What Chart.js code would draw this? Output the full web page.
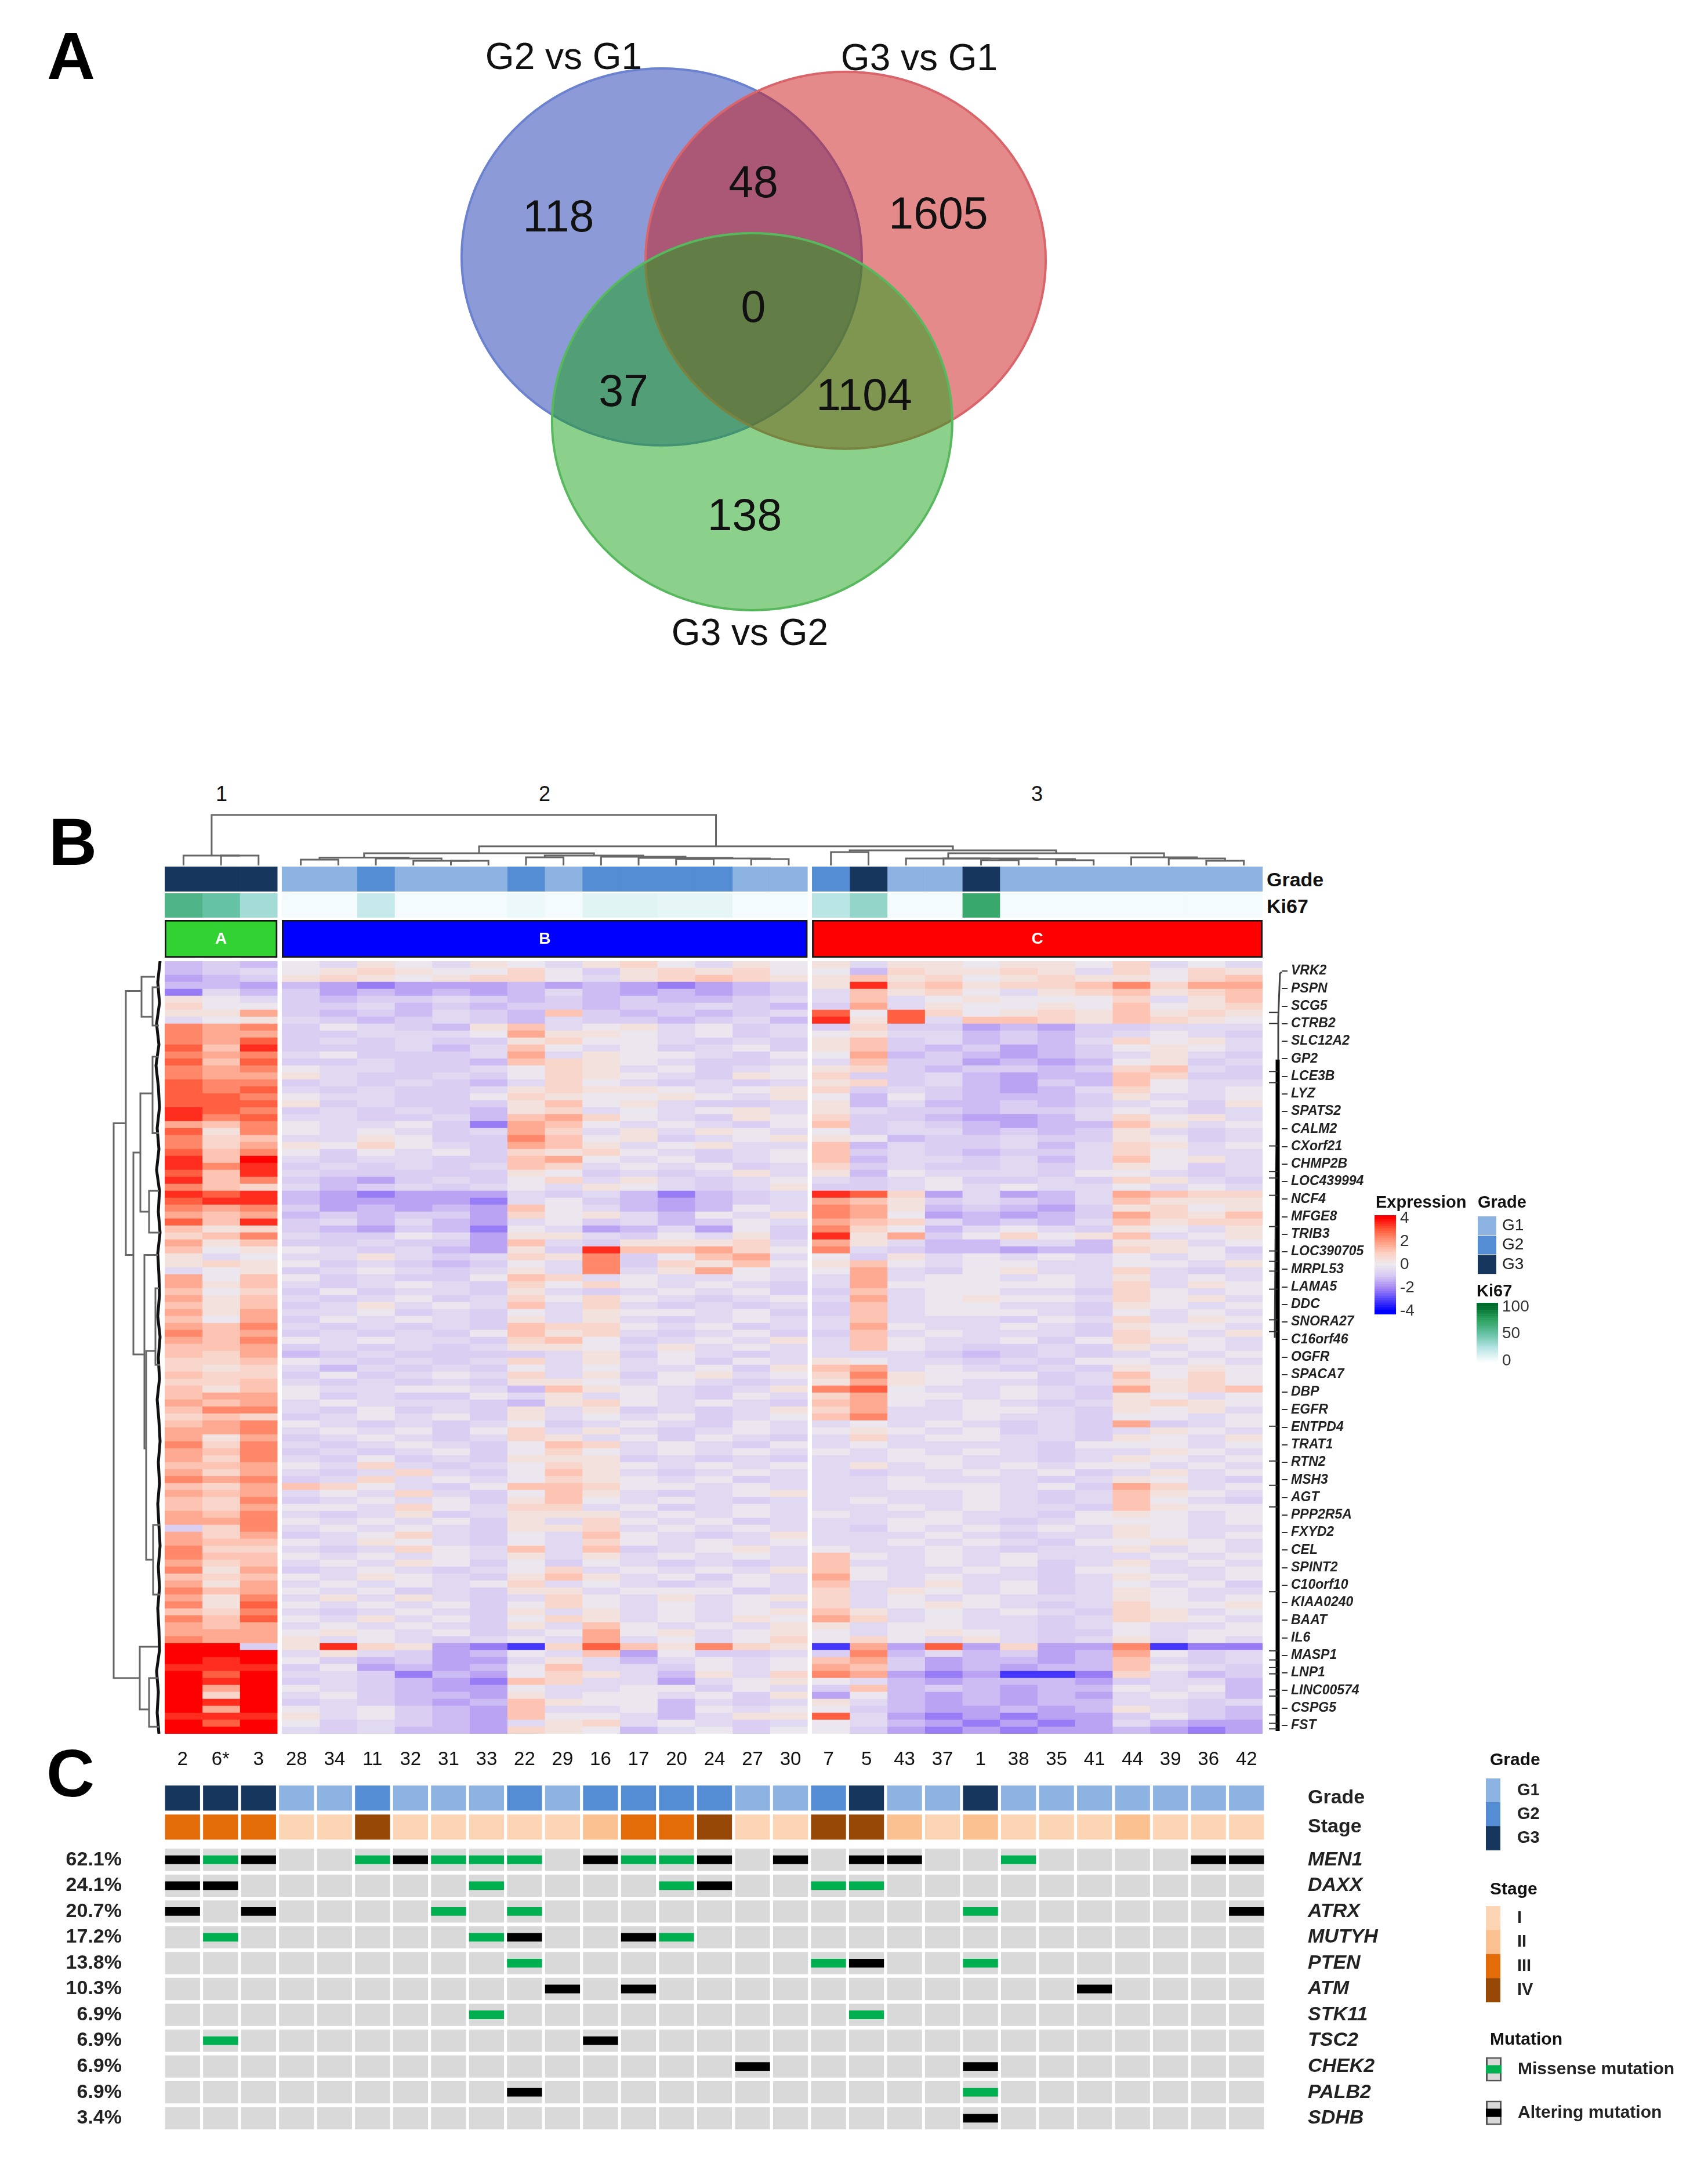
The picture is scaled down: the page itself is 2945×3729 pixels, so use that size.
<!DOCTYPE html>
<html>
<head>
<meta charset="utf-8">
<title>Venn, heatmap, oncoprint</title>
<script src="https://cdn.jsdelivr.net/npm/chart.js@4"></script>
<style>
  html, body { margin: 0; background: #fff; }
  #page { position: relative; width: 2945px; height: 3729px; overflow: hidden; font-family: 'Liberation Sans', Arial, sans-serif; color: #111; }
  canvas { position: absolute; }
  .lab { position: absolute; line-height: 1; white-space: nowrap; transform: translateY(-50%); }
</style>
</head>
<body>
<div id="page"></div>
<script>
// panel A
const vennSets = ['G2 vs G1', 'G3 vs G1', 'G3 vs G2'];
const vennCx = [0, 0.919, 0.452];
const vennCy = [0, 0.018, 0.874];
const vennFill = ['rgba(26,56,176,.5)', 'rgba(203,22,22,.5)', 'rgba(25,163,23,.5)'];
const vennLine = ['#6a82cf', '#d9656b', '#58b85e'];
const vennCounts = [118, 48, 1605, 0, 37, 1104, 138];

// samples in plot order, 3 clusters
const samples = ['2', '6*', '3', '28', '34', '11', '32', '31', '33', '22', '29', '16', '17', '20', '24', '27', '30', '7', '5', '43', '37', '1', '38', '35', '41', '44', '39', '36', '42'];
const clusterSizes = [3, 14, 12];
const clusterNames = ['A', 'B', 'C'];
const clusterColors = ['#32d232', '#0000ff', '#ff0000'];
const grade = [3, 3, 3, 1, 1, 2, 1, 1, 1, 2, 1, 2, 2, 2, 2, 1, 1, 2, 3, 1, 1, 3, 1, 1, 1, 1, 1, 1, 1];
const stage = [3, 3, 3, 1, 1, 4, 1, 1, 1, 1, 1, 2, 3, 3, 4, 1, 1, 4, 4, 2, 1, 2, 1, 1, 1, 2, 1, 1, 1];
const ki67 = [60, 50, 30, 1, 1, 18, 1, 1, 1, 4, 1, 8, 8, 6, 6, 1, 1, 22, 35, 1, 1, 70, 1, 1, 1, 1, 1, 1, 1];
const gradeColors = ['#8db3e2', '#548dd4', '#17365d'];
const stageColors = ['#fcd5b4', '#fac090', '#e36c09', '#974806'];

// heatmap, one letter per sample: cluster A | cluster B | cluster C
const levelOf = { a: -3.2, b: -2.2, c: -1.6, d: -1.2, e: -0.85, f: -0.55, g: -0.1, h: 0.35, i: 0.75, j: 1.2, k: 1.7, l: 2.3, m: 2.9, n: 3.5, o: 4 };
const heatRows = [
  'ded gfhgfhgfhigfhg hfhhghhgifgf', 'def ghihggigehihig gdihhihfigih', 'cde hihghiigfhijih hjhighihhgij',
  'ddc dcbcccdcdcbcde hnijhiijlikk', 'bfd ecdcdcdfdcdcde fjhigfhijhij', 'hgf edeefedededdef fjfghgggifhj',
  'igg eefdedeedeefed ekfhgghgjghi', 'hhk ededfedjededef mgmighihjhih', 'fgh fedefedfeedefd nhmfjjihjihg',
  'lkl egfedhjfghfgef eieecdceefff', 'lkk eefffgkhhgfgef ghffdedefgfe', 'lkm efefeehiggfefe hjefdedfighf',
  'mjn eeefdfjgfgefge hjedecdeghgf', 'lkl fgeeefkfhggfeg gkdedcdefhfe', 'mjm eefeedjihgfeef fjeecdcdghef',
  'lkl gffeefgihfgefg hiedeedeijfe', 'lkk hfeefegihgfehg ieefdcddjiee', 'mll efefedfigfefef hiefdcedjgff',
  'mlm fefeefhihhgfgh iefedcdfigfg', 'mml gffeegihgghgfh gdgedddehffg', 'mmm hefeeehjghfeef hdfddedefgeh',
  'nml efefedhifgfghf hfeedeefgfef', 'nlm ffeefdjkigfehg ieedccdfighf', 'kjl gffgebkjgfgfeg jefedcddjhfg',
  'mhl gfgfefkifhfhgf geffdedehfef', 'lij ffhgeeljghefgh hgdeefeehgef', 'lik hgigfekjhfghff jdfeefdfihfg',
  'mjl gegfgeihigfefg jefedeefigff', 'njo feffeejkgfgefg jdffefdfjghf', 'nln efefefjifgfgef iefeefefhgef',
  'mjn feeeeehgefefhf hdgfffeggfef', 'njl edcefegifhfefg fefgeefeihfe', 'lji fdefefgfhgfefh eefgfgffgfgf',
  'nmn dcbcccfefdbdef nmicfcdfkjii', 'mnn dccccbfgedcdef kjhefedfjhhh', 'lkl ecdcdcjgfdcdgf lkhdedcehigh',
  'kjk dedeecighfdgfh lkgcdcdekihj', 'mjn efdfdcfgefdegf kjifdedfjhii', 'jhi edcedbgfcdfcge ligdfgfehgfh',
  'ijl feegfchhfegfhe nhkegighjfgh', 'khj eefeecjfehhhif khfddffdhhfg', 'jgh gfefdchenjjkig lfeddcddihge',
  'hfg ffhfefihlegjkf gehfgfgfgfgf', 'hih gefedegfleihjg hjgfggffggfh', 'fgh efgfefhflfhkgf gkfeghffifef',
  'kgj gefeegjifgffgf fkfggfgfhfgf', 'khj fefgfeigigfgfe fkgggggfifhg', 'jgi egeffehfefgfge ejfggffeigfg',
  'khj fefgefigigfefg fkfghggfighf', 'jhj efhfgfjfifefef ejfggffehgfg', 'khk ffgefegfhggfge ejfgggfegfgf',
  'jgk egfgfehfhfefgf fjfffegfifhg', 'kjl fefefejiigfgef fkgffgfehggf', 'ljk efefegjhifefge ejfgfffeigfh',
  'kjl gfgffeijgefgfh fjgffgegihgf', 'jjk efefefhhgfhfgf fjgfeefehfgf', 'jik defeeeefhegfef fffedefefgfg',
  'iij gfefefifhfgegf hgffefeggfgf', 'ihi fdfefegfgffgeh jkfgfefehghg', 'jii egefgfifheghfg ilhgggefjgig',
  'iij fefefehhgfgfef hkhgffefihig', 'jhj gffggfdjhgfefh lmgffgfekhij', 'jkk gefeegfhfgfegf ikggfgfehgfg',
  'kjk fgfffedhigfgfe jkgfgfefhihg', 'jll fegefehfhefefh ikffggfehghf', 'iji efgfgehfgfgefg jlffgffeggfg',
  'jkl gfefefgefgfegf fgfgfefekefg', 'kkl fgfgegifhfefgf ghgfgefefhgf', 'khk efgfefihfgegfe fifggffehgfh',
  'lil fefgfegjifgfeg fgffffegggfg', 'kjl efefgegigfgfgf gfgfgfeffhgf', 'kil fegefehhhefefe ffggffefhgfg',
  'jjk gfifefgihgfgfg fhfgfgfggfgf', 'kik fefifegjhfefgf feffgfgefhfg', 'lkl efifgfgihgfgef ffgfffefhgfe',
  'jik jigfegjjiggfgf ffgggfgekifg', 'kjk fgfifegjhfefgh ffffgfefjhgf', 'jil efgfgehjgfgfef fgffgfefjgfe',
  'jik ggfigfiifgefgf ffgfgffejhgg', 'kjl fefhefhhhfgfgf gffgffeghgfg', 'kkl gfgfgehfigfgef ffggfefgggfg',
  'eil fgfgfehhifgfgf fegfgfgfhgff', 'kik efgifegfjgfefh fffgfeffhgfg', 'kjj gfhgfegfigfgfg ffgfgfegghgf',
  'lii fefigfjfjefghf gffgfeffhfgf', 'ljj gfgfgfhfhfgfgf jgfgfgfffgfg', 'kij fgfhgegegfefef jffgfgefhfgf',
  'lhk efgfefgifgfgfh jgffgfeggffg', 'jij gfhgfehjhfgegf kgfgffefhgfg', 'khk fgfgfgifgfefgf jffhfgefgfge',
  'ljk gfgefehhfgggef ifhgfgefhgff', 'khl fhfhfefigfhfgh ifgfgfffhgfg', 'lhm gfgfgegigfgfgf ifghgfefiggh',
  'jil fefgfehfhfgfgh jhfgfgfeihfg', 'ljm gfhfgegihfgfhg kifgffefihgf', 'kjk fgfgfehfjgfgfh hfggffefgffg',
  'kkk ghgfgefgkghfgh gfghgfeegfgg', 'lkk hfgfefgfkfgfgi gigfhfefhfgf', 'ooe hnihcbaimjhlih akcmcicclabb',
  'ooo fhfecdgfjcgeef eldfdecdkgef', 'ono gedeccfhfdfgfg jkecddcdjfef', 'nnn egcdcdgjffegfg kjecdcddjgfe',
  'omo ffebdcgihfdhfi lkcbcaabifde', 'ono efedcbjiffcfgh gfdcdddceffd', 'oko gfedccgffggegf ejdedcddgfgd',
  'oio fgeddchfggfgeh cgdcdcdcfgfd', 'ono efedcdjhggdfef hfdcdcddffef', 'oko gfgedcjffgdgfg gedccdcdhfed',
  'nnn hfgedcjggfdfhh mfcbcbcceged', 'omo gefedcfhifgfef gfdcbcbcfdcc', 'ooo fefddcihgdfgeg gecbcbccdcbc'
];
const heatGenes = ['VRK2', 'PSPN', 'SCG5', 'CTRB2', 'SLC12A2', 'GP2', 'LCE3B', 'LYZ', 'SPATS2', 'CALM2', 'CXorf21', 'CHMP2B', 'LOC439994', 'NCF4', 'MFGE8', 'TRIB3', 'LOC390705', 'MRPL53', 'LAMA5', 'DDC', 'SNORA27', 'C16orf46', 'OGFR', 'SPACA7', 'DBP', 'EGFR', 'ENTPD4', 'TRAT1', 'RTN2', 'MSH3', 'AGT', 'PPP2R5A', 'FXYD2', 'CEL', 'SPINT2', 'C10orf10', 'KIAA0240', 'BAAT', 'IL6', 'MASP1', 'LNP1', 'LINC00574', 'CSPG5', 'FST'];

// column tree: [height, left, right], leaves are sample indexes
const colTree = [87, [17, 0, [17, 1, 2]],
  [33,
    [21,
      [13.5, [10, 3, 4], [12, 5, [8, 6, [8, 7, 8]]]],
      [17, [14, 9, 10], [15, 11, [13, 12, [12, [11, 13, 14], [11, 15, 16]]]]]],
    [26, [23, 17, 18],
      [21,
        [12, 19, [12, 20, [11, [9, 21, 22], [9, 23, 24]]]],
        [14, 25, [12, 26, [8, 27, 28]]]]]]];
// row tree elbows: distance A, row A, distance of node, row B, distance B
const rowElbows = [
  [65, 23.3, 86, 103, 41], [38, 4.3, 65, 42.2, 52], [15, 2.25, 38, 8, 19], [8, 3.75, 19, 9.25, 8],
  [40, 27.5, 52, 56.5, 33], [19, 19, 40, 36, 25], [8, 13.7, 19, 24.7, 8], [8, 33, 25, 39, 6],
  [10, 42.2, 33, 70, 30], [14, 56, 30, 86, 18], [8, 47, 14, 58, 6], [6, 81, 18, 91, 6],
  [10, 98.5, 41, 107.5, 25], [10, 103, 25, 110, 8]
];
const rowEdge = [6, 10, 7, 12, 8, 13, 9, 7, 11, 8, 12, 7, 9, 6, 10, 8, 7, 10, 6, 9, 7, 11, 8, 6, 9, 7, 10, 8, 6, 9, 7, 10, 8, 7, 12, 9, 11, 8];
// short stubs left of the gene label bracket, in heatmap rows
const bracketStubs = [7.2, 8.8, 15.7, 17.3, 26.4, 30.1, 31, 33.5, 38, 41.5, 43, 44.4, 47, 51.4, 53.1, 66.7, 71.7, 75.2, 78.3, 90.5, 99, 100.3, 101.4, 102.3, 104.6, 105.5, 108.2, 109.4, 110.2];

// panel C, 0 none, 1 missense, 2 altering
const mutGenes = ['MEN1', 'DAXX', 'ATRX', 'MUTYH', 'PTEN', 'ATM', 'STK11', 'TSC2', 'CHEK2', 'PALB2', 'SDHB'];
const mutPct = ['62.1%', '24.1%', '20.7%', '17.2%', '13.8%', '10.3%', '6.9%', '6.9%', '6.9%', '6.9%', '3.4%'];
const mutMEN1 = [2, 1, 2, 0, 0, 1, 2, 1, 1, 1, 0, 2, 1, 1, 2, 0, 2, 0, 2, 2, 0, 0, 1, 0, 0, 0, 0, 2, 2];
const mutDAXX = [2, 2, 0, 0, 0, 0, 0, 0, 1, 0, 0, 0, 0, 1, 2, 0, 0, 1, 1, 0, 0, 0, 0, 0, 0, 0, 0, 0, 0];
const mutATRX = [2, 0, 2, 0, 0, 0, 0, 1, 0, 1, 0, 0, 0, 0, 0, 0, 0, 0, 0, 0, 0, 1, 0, 0, 0, 0, 0, 0, 2];
const mutMUTYH = [0, 1, 0, 0, 0, 0, 0, 0, 1, 2, 0, 0, 2, 1, 0, 0, 0, 0, 0, 0, 0, 0, 0, 0, 0, 0, 0, 0, 0];
const mutPTEN = [0, 0, 0, 0, 0, 0, 0, 0, 0, 1, 0, 0, 0, 0, 0, 0, 0, 1, 2, 0, 0, 1, 0, 0, 0, 0, 0, 0, 0];
const mutATM = [0, 0, 0, 0, 0, 0, 0, 0, 0, 0, 2, 0, 2, 0, 0, 0, 0, 0, 0, 0, 0, 0, 0, 0, 2, 0, 0, 0, 0];
const mutSTK11 = [0, 0, 0, 0, 0, 0, 0, 0, 1, 0, 0, 0, 0, 0, 0, 0, 0, 0, 1, 0, 0, 0, 0, 0, 0, 0, 0, 0, 0];
const mutTSC2 = [0, 1, 0, 0, 0, 0, 0, 0, 0, 0, 0, 2, 0, 0, 0, 0, 0, 0, 0, 0, 0, 0, 0, 0, 0, 0, 0, 0, 0];
const mutCHEK2 = [0, 0, 0, 0, 0, 0, 0, 0, 0, 0, 0, 0, 0, 0, 0, 2, 0, 0, 0, 0, 0, 2, 0, 0, 0, 0, 0, 0, 0];
const mutPALB2 = [0, 0, 0, 0, 0, 0, 0, 0, 0, 2, 0, 0, 0, 0, 0, 0, 0, 0, 0, 0, 0, 1, 0, 0, 0, 0, 0, 0, 0];
const mutSDHB = [0, 0, 0, 0, 0, 0, 0, 0, 0, 0, 0, 0, 0, 0, 0, 0, 0, 0, 0, 0, 0, 2, 0, 0, 0, 0, 0, 0, 0];
const mutRows = [mutMEN1, mutDAXX, mutATRX, mutMUTYH, mutPTEN, mutATM, mutSTK11, mutTSC2, mutCHEK2, mutPALB2, mutSDHB];

const page = document.getElementById('page');
const FONT = "'Liberation Sans', Arial, sans-serif";
Chart.defaults.animation = false;
Chart.defaults.responsive = false;
Chart.defaults.devicePixelRatio = 1;
Chart.defaults.font.family = FONT;
Chart.defaults.plugins.legend.display = false;
Chart.defaults.plugins.tooltip.enabled = false;

function place(left, top, w, h) {
  const c = document.createElement('canvas');
  c.width = w; c.height = h;
  c.style.left = left + 'px'; c.style.top = top + 'px';
  c.style.width = w + 'px'; c.style.height = h + 'px';
  page.appendChild(c);
  return c;
}
function label(text, x, y, size, opts) {
  const o = opts || {};
  const d = document.createElement('div');
  d.className = 'lab';
  d.textContent = text;
  d.style.fontSize = size + 'px';
  d.style.top = y + 'px';
  d.style.left = x + 'px';
  if (o.bold) d.style.fontWeight = 'bold';
  if (o.color) d.style.color = o.color;
  if (o.center) d.style.transform = 'translate(-50%,-50%)';
  page.appendChild(d);
}
// fixed axis size; tick padding would otherwise also shrink the chart area
function fixAxis(size) {
  return s => {
    if (s.isHorizontal()) s.height = size; else s.width = size;
    s.paddingTop = s.paddingBottom = s.paddingLeft = s.paddingRight = 0;
  };
}
const noGrid = { display: false, drawTicks: false };
function mix(stops, v) {
  if (v <= stops[0][0]) return stops[0][1];
  for (let i = 1; i < stops.length; i++) {
    if (v <= stops[i][0]) {
      const t = (v - stops[i - 1][0]) / (stops[i][0] - stops[i - 1][0]);
      const a = stops[i - 1][1], b = stops[i][1], p = n => parseInt(n, 16);
      const ch = k => Math.round(p(a.substr(k, 2)) + (p(b.substr(k, 2)) - p(a.substr(k, 2))) * t);
      return 'rgb(' + ch(1) + ',' + ch(3) + ',' + ch(5) + ')';
    }
  }
  return stops[stops.length - 1][1];
}
const expStops = [[-4, '#0000ff'], [-2, '#a98af5'], [-1, '#d6c9f3'], [0, '#eeeaee'], [1, '#fdcfc0'], [2, '#ff9a7e'], [3, '#ff5a3a'], [4, '#ff0000']];
const kiStops = [[0, '#f7fcfd'], [25, '#b2e2e2'], [50, '#66c2a4'], [75, '#2ca25f'], [100, '#006d2c']];

// x position of the columns with the small gap between clusters
const GAP = 0.125;
const colLeft = i => i + (i >= clusterSizes[0] ? GAP : 0) + (i >= clusterSizes[0] + clusterSizes[1] ? GAP : 0);
const XMAX = samples.length + 2 * GAP;
const hidden = (min, max, extra) => Object.assign({ type: 'linear', min, max, display: false }, extra || {});

// ---- A: venn
const VENN_R = 1;
new Chart(place(700, 50, 1200, 1050), {
  type: 'scatter',
  data: { datasets: vennSets.map((s, i) => ({ label: s, data: [{ x: vennCx[i], y: vennCy[i] }], pointRadius: 0 })) },
  options: {
    scales: { x: hidden(-1.278, 2.2), y: hidden(-1.209, 2.022, { reverse: true }) }
  },
  plugins: [{
    id: 'ellipses',
    afterDatasetsDraw(chart) {
      const { ctx, scales } = chart;
      chart.data.datasets.forEach((ds, i) => {
        const p = ds.data[0];
        const cx = scales.x.getPixelForValue(p.x), cy = scales.y.getPixelForValue(p.y);
        const rx = scales.x.getPixelForValue(p.x + VENN_R) - cx, ry = scales.y.getPixelForValue(p.y + VENN_R) - cy;
        ctx.beginPath();
        ctx.ellipse(cx, cy, rx, ry, 0, 0, Math.PI * 2);
        ctx.fillStyle = vennFill[i];
        ctx.fill();
        ctx.lineWidth = 4;
        ctx.strokeStyle = vennLine[i];
        ctx.stroke();
      });
    }
  }]
});

// ---- B: column tree
function treeLines(node, out) {
  if (typeof node === 'number') return { x: colLeft(node) + 0.5, h: 0 };
  const l = treeLines(node[1], out), r = treeLines(node[2], out);
  out.push([{ x: l.x, y: l.h }, { x: l.x, y: node[0] }, { x: r.x, y: node[0] }, { x: r.x, y: r.h }]);
  return { x: (l.x + r.x) / 2, h: node[0] };
}
const colLinks = [];
treeLines(colTree, colLinks);
new Chart(place(284, 1395, 1893, 97), {
  type: 'scatter',
  data: { datasets: colLinks.map(d => ({ data: d, showLine: true, pointRadius: 0, borderColor: '#666', borderWidth: 3, clip: false })) },
  options: { scales: { x: hidden(0, XMAX), y: hidden(0, 97) } }
});

// ---- B: annotation strips
function strip(top, h, colors) {
  new Chart(place(284, top, 1893, h), {
    type: 'bar',
    data: {
      labels: [''],
      datasets: colors.map((c, i) => ({ data: [[colLeft(i), colLeft(i) + 1]], backgroundColor: c, grouped: false, barPercentage: 1, categoryPercentage: 1 }))
    },
    options: { indexAxis: 'y', scales: { x: hidden(0, XMAX), y: { type: 'category', display: false } } }
  });
}
strip(1494, 43, grade.map(g => gradeColors[g - 1]));
strip(1540, 42, ki67.map(v => mix(kiStops, v)));

let startCol = 0;
const clusterSpans = clusterSizes.map(n => {
  const span = [colLeft(startCol), colLeft(startCol) + n];
  startCol += n;
  return span;
});
new Chart(place(284, 1586, 1893, 65), {
  type: 'bar',
  data: {
    labels: [''],
    datasets: clusterSpans.map((s, i) => ({ label: clusterNames[i], data: [s], backgroundColor: clusterColors[i], borderColor: '#161616', borderWidth: 3, borderSkipped: false, grouped: false, barPercentage: 1, categoryPercentage: 1 }))
  },
  options: { indexAxis: 'y', scales: { x: hidden(0, XMAX), y: { type: 'category', display: false } } }
});

// ---- B: heatmap, one dataset per sample, one category per row
const ROW_H = 12;
const cleanRows = heatRows.map(r => r.replace(/ /g, ''));
new Chart(place(284, 1657, 1893, cleanRows.length * ROW_H), {
  type: 'bar',
  data: {
    labels: cleanRows.map((r, i) => i),
    datasets: samples.map((s, c) => ({
      label: s,
      data: cleanRows.map(() => [colLeft(c), colLeft(c) + 1]),
      backgroundColor: cleanRows.map(r => mix(expStops, levelOf[r[c]] ?? 0)),
      grouped: false, barPercentage: 1, categoryPercentage: 1
    }))
  },
  options: { indexAxis: 'y', scales: { x: hidden(0, XMAX), y: { type: 'category', display: false, offset: true } } }
});

// ---- B: row tree
const rowLinks = rowElbows.map(e => [{ x: e[0], y: e[1] }, { x: e[2], y: e[1] }, { x: e[2], y: e[3] }, { x: e[4], y: e[3] }]);
const edgePts = rowEdge.map((d, i) => ({ x: d, y: i * 3 }));
new Chart(place(157, 1657, 125, cleanRows.length * ROW_H), {
  type: 'scatter',
  data: {
    datasets: rowLinks.map(d => ({ data: d, showLine: true, pointRadius: 0, borderColor: '#666', borderWidth: 3 }))
      .concat([{ data: edgePts, showLine: true, pointRadius: 0, borderColor: '#111', borderWidth: 5 }])
  },
  options: { scales: { x: hidden(0, 125, { reverse: true }), y: hidden(0, cleanRows.length, { reverse: true }) } }
});

// ---- B: gene labels and their bracket
const stubLines = bracketStubs.map(r => [{ x: 8, y: r }, { x: 23, y: r }]);
new Chart(place(2180, 1659, 400, 1331), {
  type: 'scatter',
  data: {
    datasets: stubLines.map(d => ({ data: d, showLine: true, pointRadius: 0, borderColor: '#333', borderWidth: 2, yAxisID: 'yr' })).concat([
      { data: [{ x: 23, y: 14 }, { x: 23, y: 110.5 }], showLine: true, pointRadius: 0, borderColor: '#000', borderWidth: 7, yAxisID: 'yr' },
      { data: [{ x: 30, y: 1.4 }, { x: 27, y: 1.6 }, { x: 24, y: 8 }, { x: 24, y: 17 }, { x: 20, y: 30 }, { x: 18, y: 54 }], showLine: true, pointRadius: 0, borderColor: '#444', borderWidth: 3, yAxisID: 'yr', clip: false }
    ])
  },
  options: {
    scales: {
      x: hidden(0, 30),
      yr: hidden(0, cleanRows.length, { reverse: true, axis: 'y' }),
      genes: {
        axis: 'y', type: 'category', position: 'right', labels: heatGenes, offset: true,
        afterFit: fixAxis(370),
        border: { display: false },
        grid: { drawOnChartArea: false, tickLength: 10, color: '#333', lineWidth: 2 },
        ticks: { autoSkip: false, padding: 6, color: '#222', font: { size: 23, weight: 'bold', style: 'italic' } }
      }
    }
  }
});

// ---- legends
function colorbar(left, top, barW, h, min, max, step, ticks, colorFn) {
  const bands = [];
  for (let v = min; v < max; v += step) bands.push([v, Math.min(v + step, max)]);
  const PAD = 24;
  new Chart(place(left, top - PAD, barW + 90, h + 2 * PAD), {
    type: 'bar',
    data: { labels: [''], datasets: bands.map(b => ({ data: [b], backgroundColor: colorFn((b[0] + b[1]) / 2), grouped: false, barPercentage: 1, categoryPercentage: 1 })) },
    options: {
      layout: { padding: { top: PAD, bottom: PAD } },
      scales: {
        x: { type: 'category', display: false },
        y: {
          type: 'linear', min, max, position: 'right',
          afterBuildTicks(s) { s.ticks = ticks.map(value => ({ value })); },
          afterFit: fixAxis(90),
          border: { display: false }, grid: noGrid,
          ticks: { padding: 7, autoSkip: false, color: '#333', font: { size: 28 }, callback: v => String(v) }
        }
      }
    }
  });
}
colorbar(2370, 2095, 37, 171, -4.3, 4.25, 0.2, [4, 2, 0, -2, -4], v => mix(expStops, v));
colorbar(2546, 2246, 37, 102, -2, 107.5, 2.5, [100, 50, 0], v => mix(kiStops, v));

function keyBars(left, top, barW, h, names, colors, pad, size, weight, pct) {
  new Chart(place(left, top, barW + 150, h), {
    type: 'bar',
    data: { labels: names, datasets: [{ data: names.map(() => [0, 1]), backgroundColor: colors, barPercentage: pct, categoryPercentage: 1 }] },
    options: {
      indexAxis: 'y',
      scales: {
        x: hidden(0, 1),
        y: {
          type: 'category', position: 'right', offset: true,
          afterFit: fixAxis(150),
          border: { display: false }, grid: noGrid,
          ticks: { padding: pad, autoSkip: false, color: '#222', font: { size, weight } }
        }
      }
    }
  });
}
keyBars(2548, 2096, 32, 101, ['G1', 'G2', 'G3'], gradeColors, 10, 28, 'normal', 0.96);
keyBars(2562, 3066, 25, 124, ['G1', 'G2', 'G3'], gradeColors, 29, 29, 'bold', 1);
keyBars(2562, 3286, 25, 166, ['I', 'II', 'III', 'IV'], stageColors, 29, 29, 'bold', 1);

const mutKinds = ['Missense mutation', 'Altering mutation'];
const mutColors = ['#00b050', '#000000'];
// first dataset is painted last, so the stripe comes before the cell
new Chart(place(2562, 3530, 383, 150), {
  type: 'bar',
  data: {
    labels: mutKinds,
    datasets: [
      { data: mutKinds.map(() => [0, 1]), backgroundColor: mutColors, barPercentage: 0.19, categoryPercentage: 1, grouped: false },
      { data: mutKinds.map(() => [0, 1]), backgroundColor: '#d9d9d9', borderColor: '#555', borderWidth: 3, borderSkipped: false, barPercentage: 0.56, categoryPercentage: 1, grouped: false }
    ]
  },
  options: {
    indexAxis: 'y',
    scales: {
      x: hidden(0, 1),
      y: {
        type: 'category', position: 'right', offset: true,
        afterFit: fixAxis(356),
        border: { display: false }, grid: noGrid,
        ticks: { padding: 28, autoSkip: false, color: '#222', font: { size: 30, weight: 'bold' } }
      }
    }
  }
});

// ---- C: grade and stage
new Chart(place(282, 3000, 2318, 175), {
  type: 'bar',
  data: {
    labels: samples,
    datasets: [
      { data: samples.map(() => [0.065, 0.93]), backgroundColor: grade.map(g => gradeColors[g - 1]) },
      { data: samples.map(() => [1.065, 1.93]), backgroundColor: stage.map(s => stageColors[s - 1]) }
    ].map(d => Object.assign(d, { yAxisID: 'yr', grouped: false, barPercentage: 0.92, categoryPercentage: 1 }))
  },
  options: {
    scales: {
      x: {
        type: 'category', position: 'top', offset: true,
        afterFit: fixAxis(75),
        border: { display: false }, grid: noGrid,
        ticks: { padding: 21, autoSkip: false, maxRotation: 0, color: '#111', font: { size: 33 } }
      },
      yr: hidden(0, 2, { reverse: true, axis: 'y' }),
      side: {
        axis: 'y', type: 'category', position: 'right', labels: ['Grade', 'Stage'], offset: true,
        afterFit: fixAxis(418),
        border: { display: false }, grid: noGrid,
        ticks: { padding: 73, autoSkip: false, color: '#222', font: { size: 34, weight: 'bold' } }
      }
    }
  }
});

// ---- C: mutation grid
const mutDatasets = [];
mutRows.forEach((row, g) => {
  mutDatasets.push({
    data: row.map(m => (m ? [g + 0.333, g + 0.667] : null)),
    backgroundColor: row.map(m => (m === 1 ? mutColors[0] : mutColors[1]))
  });
  mutDatasets.push({ data: row.map(() => [g + 0.07, g + 0.93]), backgroundColor: '#d9d9d9' });
});
new Chart(place(100, 3184, 2500, 490), {
  type: 'bar',
  data: {
    labels: samples,
    datasets: mutDatasets.map(d => Object.assign(d, { yAxisID: 'yr', grouped: false, barPercentage: 0.92, categoryPercentage: 1 }))
  },
  options: {
    scales: {
      x: { type: 'category', display: false, offset: true },
      yr: hidden(0, mutRows.length, { reverse: true, axis: 'y' }),
      pct: {
        axis: 'y', type: 'category', position: 'left', labels: mutPct, offset: true,
        afterFit: fixAxis(182),
        border: { display: false }, grid: noGrid,
        ticks: { padding: 72, autoSkip: false, color: '#222', font: { size: 34, weight: 'bold' } }
      },
      gene: {
        axis: 'y', type: 'category', position: 'right', labels: mutGenes, offset: true,
        afterFit: fixAxis(418),
        border: { display: false }, grid: noGrid,
        ticks: { padding: 73, autoSkip: false, color: '#222', font: { size: 34, weight: 'bold', style: 'italic' } }
      }
    }
  }
});

// ---- free text
label('A', 81, 96, 115, { bold: true, color: '#000' });
label('B', 84, 1451, 115, { bold: true, color: '#000' });
label('C', 80, 3057, 115, { bold: true, color: '#000' });

label(vennSets[0], 972, 97, 64, { center: true });
label(vennSets[1], 1585, 99, 64, { center: true });
label(vennSets[2], 1293, 1090, 64, { center: true });
const countSpots = [[963, 372], [1299, 313], [1618, 367], [1299, 528], [1075, 673], [1490, 680], [1284, 887]];
vennCounts.forEach((n, i) => label(String(n), countSpots[i][0], countSpots[i][1], 77, { center: true }));

label('1', 382, 1369, 36, { center: true });
label('2', 939, 1369, 36, { center: true });
label('3', 1788, 1369, 36, { center: true });
clusterSpans.forEach((s, i) => {
  const px = 284 + (s[0] + s[1]) / 2 * (1893 / XMAX);
  label(clusterNames[i], px, 1618, 28, { bold: true, center: true, color: '#fff' });
});
label('Grade', 2184, 1516, 34, { bold: true });
label('Ki67', 2184, 1562, 34, { bold: true });

label('Expression', 2372, 2072, 29, { bold: true });
label('Grade', 2548, 2072, 29, { bold: true });
label('Ki67', 2546, 2225, 29, { bold: true });

label('Grade', 2569, 3033, 30, { bold: true });
label('Stage', 2569, 3256, 30, { bold: true });
label('Mutation', 2569, 3515, 30, { bold: true });
</script>
</body>
</html>
